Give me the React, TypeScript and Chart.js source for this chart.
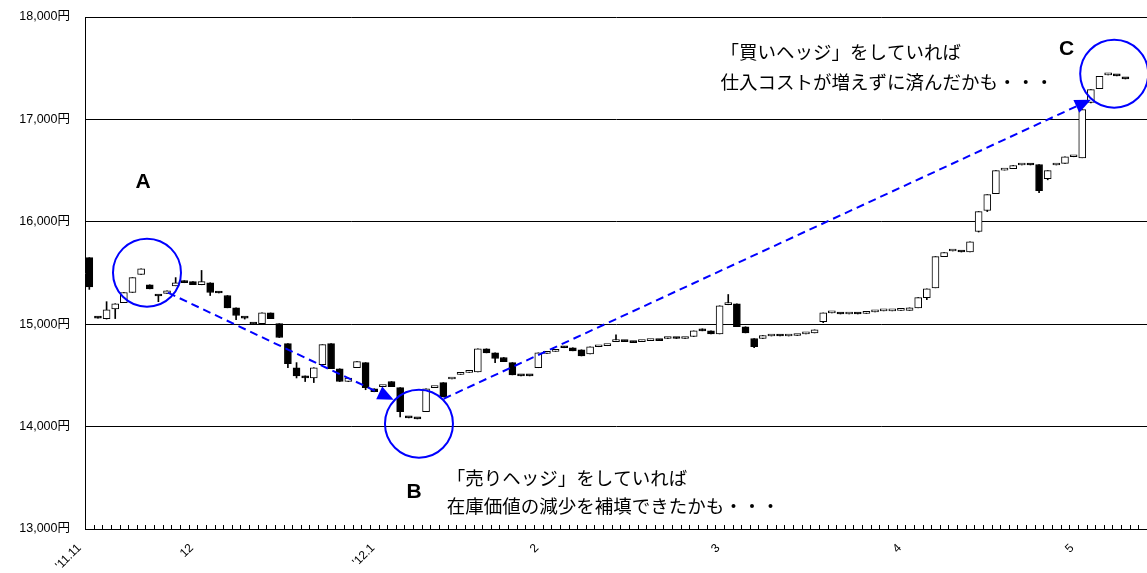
import { useEffect, useRef } from 'react';
import { Chart, registerables } from 'chart.js';

Chart.register(...registerables);

// ---- data (trading days from 2011/11/11) ----
const opens = [
  15650, 15070, 15055, 15150, 15210, 15310, 15485, 15385, 15280, 15300,
  15375, 15425, 15415, 15385, 15405, 15315, 15280, 15160, 15065, 15005,
  15005, 15110, 15005, 14810, 14575, 14495, 14475, 14605, 14810, 14565,
  14440, 14575, 14625, 14370, 14390, 14440, 14380, 14090, 14080, 14145,
  14380, 14430, 14465, 14510, 14530, 14535, 14760, 14720, 14675, 14625,
  14500, 14500, 14575, 14715, 14735, 14780, 14770, 14750, 14710, 14780,
  14790, 14830, 14840, 14830, 14830, 14840, 14850, 14860, 14870, 14860,
  14880, 14955, 14935, 14905, 15190, 15200, 14975, 14860, 14860, 14885,
  14890, 14885, 14890, 14905, 14915, 15025, 15110, 15105, 15100, 15105,
  15105, 15120, 15130, 15130, 15135, 15135, 15160, 15260, 15355, 15660,
  15715, 15710, 15705, 15905, 16110, 16275, 16505, 16520, 16555, 16560,
  16560, 16420, 16555, 16570, 16635, 16625, 17165, 17300, 17435, 17430,
  17400,
];
const highs = [
  15650, 15070, 15220, 15200, 15310, 15455, 15540, 15385, 15280, 15325,
  15455, 15425, 15415, 15525, 15405, 15315, 15280, 15160, 15065, 15005,
  15110, 15110, 15005, 14810, 14625, 14495, 14575, 14800, 14810, 14565,
  14475, 14635, 14625, 14370, 14400, 14440, 14380, 14090, 14080, 14370,
  14385, 14430, 14470, 14520, 14535, 14760, 14760, 14720, 14675, 14625,
  14500, 14500, 14720, 14730, 14745, 14780, 14770, 14750, 14780, 14785,
  14795, 14895, 14840, 14830, 14840, 14850, 14850, 14870, 14870, 14870,
  14935, 14955, 14935, 15180, 15290, 15200, 14975, 14860, 14890, 14890,
  14890, 14890, 14895, 14915, 14945, 15110, 15115, 15105, 15105, 15105,
  15120, 15130, 15135, 15135, 15140, 15160, 15260, 15345, 15660, 15700,
  15720, 15710, 15805, 16100, 16265, 16500, 16510, 16550, 16560, 16560,
  16560, 16500, 16560, 16635, 16640, 17095, 17290, 17420, 17445, 17430,
  17400,
];
const lows = [
  15340, 15060, 15050, 15055, 15210, 15310, 15485, 15345, 15220, 15300,
  15375, 15405, 15385, 15385, 15280, 15305, 15160, 15045, 15050, 15000,
  15005, 15055, 14870, 14575, 14475, 14440, 14430, 14605, 14565, 14440,
  14440, 14575, 14360, 14340, 14390, 14390, 14095, 14085, 14075, 14145,
  14380, 14290, 14465, 14510, 14530, 14535, 14720, 14625, 14635, 14505,
  14495, 14495, 14575, 14715, 14735, 14770, 14740, 14690, 14710, 14780,
  14790, 14830, 14830, 14820, 14830, 14840, 14840, 14860, 14860, 14860,
  14880, 14935, 14905, 14905, 15190, 14975, 14915, 14770, 14860, 14885,
  14885, 14885, 14890, 14905, 14915, 15015, 15110, 15100, 15100, 15100,
  15105, 15120, 15130, 15130, 15135, 15135, 15160, 15240, 15355, 15660,
  15715, 15705, 15705, 15900, 16100, 16275, 16505, 16520, 16555, 16555,
  16285, 16410, 16555, 16570, 16635, 16625, 17160, 17300, 17435, 17425,
  17395,
];
const closes = [
  15365, 15060, 15140, 15200, 15310, 15455, 15540, 15345, 15275, 15325,
  15405, 15405, 15385, 15415, 15310, 15305, 15160, 15085, 15060, 15000,
  15110, 15055, 14870, 14615, 14495, 14475, 14575, 14800, 14565, 14440,
  14475, 14635, 14380, 14340, 14400, 14390, 14145, 14085, 14075, 14370,
  14385, 14290, 14470, 14520, 14535, 14760, 14720, 14665, 14635, 14505,
  14495, 14495, 14720, 14730, 14745, 14770, 14740, 14690, 14780, 14785,
  14795, 14850, 14830, 14820, 14840, 14850, 14840, 14870, 14860, 14870,
  14935, 14935, 14905, 15180, 15210, 14975, 14915, 14780, 14890, 14890,
  14885, 14890, 14895, 14915, 14945, 15110, 15115, 15100, 15105, 15100,
  15120, 15130, 15135, 15135, 15140, 15160, 15260, 15345, 15660, 15700,
  15720, 15705, 15805, 16100, 16265, 16500, 16510, 16550, 16560, 16555,
  16305, 16500, 16560, 16635, 16640, 17095, 17290, 17420, 17440, 17425,
  17395,
];

const SLOT_COUNT = 123;
const monthTickIndex = [0, 13, 34, 53, 74, 95, 115];
const monthTickLabels = ["'11.11", '12', "'12.1", '2', '3', '4', '5'];

const Y_MIN = 13000;
const Y_MAX = 18000;
const Y_STEP = 1000;

// annotations, in data coordinates (x = trading-day index, y = price)
const circleX = [6.68, 38.18, 118.7];
const circleY = [15503, 14028, 17446];
const arrowFromX = [9.11, 41.04];
const arrowFromY = [15308, 14272];
const arrowToX = [35.25, 116.0];
const arrowToY = [14263, 17193];
const letterText = ['A', 'B', 'C'];
const letterX = [6.22, 37.6, 113.2];
const letterY = [16382, 13364, 17681];
const noteLines = [
  '「買いヘッジ」をしていれば',
  '仕入コストが増えずに済んだかも・・・',
  '「売りヘッジ」をしていれば',
  '在庫価値の減少を補填できたかも・・・',
];
const noteX = [73.1, 73.1, 41.4, 41.4];
const noteY = [17660, 17368, 13501, 13227];

const JP_FONT = "'Noto Sans CJK JP', 'Noto Sans', sans-serif";
const NUM_FONT = "'Liberation Sans', 'Noto Sans CJK JP', sans-serif";

const annotationPlugin = {
  id: 'annotations',
  afterDatasetsDraw(chart: any) {
    const ctx = chart.ctx;
    const xs = chart.scales.x;
    const ys = chart.scales.y;
    const area = chart.chartArea;
    ctx.save();
    // small inward tick marks on the category axis
    const half = (xs.getPixelForValue(1) - xs.getPixelForValue(0)) / 2;
    ctx.strokeStyle = '#000';
    ctx.lineWidth = 1;
    ctx.beginPath();
    for (let i = 0; i <= SLOT_COUNT; i++) {
      const px = Math.round(xs.getPixelForValue(i) - half) + 0.5;
      ctx.moveTo(px, area.bottom);
      ctx.lineTo(px, area.bottom - 4);
    }
    ctx.stroke();

    // blue circles
    ctx.strokeStyle = '#0000ff';
    ctx.lineWidth = 2;
    for (let i = 0; i < circleX.length; i++) {
      ctx.beginPath();
      ctx.arc(xs.getPixelForValue(circleX[i]), ys.getPixelForValue(circleY[i]), 34, 0, Math.PI * 2);
      ctx.stroke();
    }
    // dashed arrows
    for (let i = 0; i < arrowFromX.length; i++) {
      const x0 = xs.getPixelForValue(arrowFromX[i]);
      const y0 = ys.getPixelForValue(arrowFromY[i]);
      const x1 = xs.getPixelForValue(arrowToX[i]);
      const y1 = ys.getPixelForValue(arrowToY[i]);
      const ang = Math.atan2(y1 - y0, x1 - x0);
      const headLen = 16;
      const headHalf = 7;
      const bx = x1 - headLen * Math.cos(ang);
      const by = y1 - headLen * Math.sin(ang);
      ctx.setLineDash([8, 5]);
      ctx.lineWidth = 2;
      ctx.beginPath();
      ctx.moveTo(x0, y0);
      ctx.lineTo(bx, by);
      ctx.stroke();
      ctx.setLineDash([]);
      ctx.fillStyle = '#0000ff';
      ctx.beginPath();
      ctx.moveTo(x1, y1);
      ctx.lineTo(bx - headHalf * Math.sin(ang), by + headHalf * Math.cos(ang));
      ctx.lineTo(bx + headHalf * Math.sin(ang), by - headHalf * Math.cos(ang));
      ctx.closePath();
      ctx.fill();
    }
    // letters
    ctx.fillStyle = '#000';
    ctx.textAlign = 'center';
    ctx.textBaseline = 'middle';
    ctx.font = "bold 21px 'Liberation Sans', sans-serif";
    for (let i = 0; i < letterText.length; i++) {
      ctx.fillText(letterText[i], xs.getPixelForValue(letterX[i]), ys.getPixelForValue(letterY[i]));
    }
    // notes
    ctx.textAlign = 'left';
    ctx.font = `18.5px ${JP_FONT}`;
    for (let i = 0; i < noteLines.length; i++) {
      ctx.fillText(noteLines[i], xs.getPixelForValue(noteX[i]), ys.getPixelForValue(noteY[i]));
    }
    ctx.restore();
  },
};

export default function App() {
  const canvasRef = useRef<HTMLCanvasElement | null>(null);

  useEffect(() => {
    const canvas = canvasRef.current;
    if (!canvas) return;
    const labels = Array.from({ length: SLOT_COUNT }, (_, i) => {
      const k = monthTickIndex.indexOf(i);
      return k >= 0 ? monthTickLabels[k] : '';
    });
    const bodies = opens.map((o, i) => [o, closes[i]]);
    const wicks = lows.map((l, i) => [l, highs[i]]);
    const fills = opens.map((o, i) => (closes[i] >= o ? '#ffffff' : '#000000'));

    const chart = new Chart(canvas, {
      type: 'bar',
      data: {
        labels,
        datasets: [
          {
            label: 'body',
            data: bodies as any,
            backgroundColor: fills,
            borderColor: '#000000',
            borderWidth: 1,
            borderSkipped: false,
            barThickness: 7,
            minBarLength: 2,
            grouped: false,
            order: 1,
          },
          {
            label: 'wick',
            data: wicks as any,
            backgroundColor: '#000000',
            borderWidth: 0,
            barThickness: 1,
            grouped: false,
            order: 2,
          },
        ],
      },
      options: {
        responsive: false,
        animation: false,
        devicePixelRatio: 1,
        layout: { padding: { top: 17, right: 0, left: 0, bottom: 0 } },
        plugins: { legend: { display: false }, tooltip: { enabled: false } },
        scales: {
          x: {
            type: 'category',
            offset: true,
            grid: { display: false, drawTicks: false },
            border: { display: true, color: '#000', width: 1 },
            ticks: {
              autoSkip: false,
              minRotation: 45,
              maxRotation: 45,
              color: '#000',
              padding: 12,
              labelOffset: -10,
              font: { size: 12, family: NUM_FONT },
            },
            afterFit: (s: any) => {
              s.height = 44;
              s.paddingLeft = 0;
              s.paddingRight = 0;
            },
          },
          y: {
            min: Y_MIN,
            max: Y_MAX,
            grid: { color: '#000', lineWidth: 1, drawTicks: false },
            border: { display: true, color: '#000', width: 1 },
            ticks: {
              stepSize: Y_STEP,
              color: '#000',
              padding: 15,
              font: { size: 12.5, family: NUM_FONT },
              callback: (v: any) => Number(v).toLocaleString('en-US') + '円',
            },
            afterFit: (s: any) => {
              s.width = 85;
              s.paddingTop = 0;
              s.paddingBottom = 0;
            },
          },
        },
      },
      plugins: [annotationPlugin],
    });
    return () => chart.destroy();
  }, []);

  return (
    <div style={{ position: 'fixed', left: 0, top: 0, width: 1147, height: 573, background: '#fff' }}>
      <canvas ref={canvasRef} width={1147} height={573} style={{ display: 'block' }} />
    </div>
  );
}
